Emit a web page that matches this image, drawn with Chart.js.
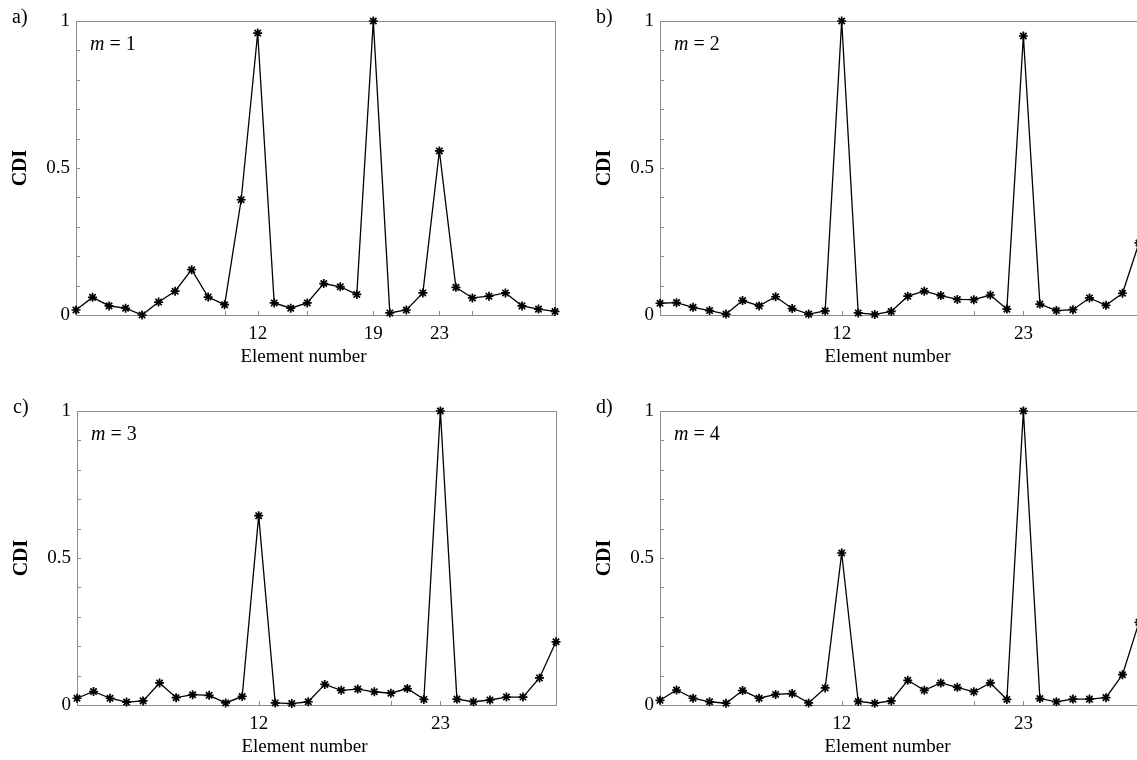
<!DOCTYPE html>
<html>
<head>
<meta charset="utf-8">
<script src="https://cdn.jsdelivr.net/npm/chart.js@4.4.1/dist/chart.umd.min.js"></script>
<style>
  body { margin: 0; background: #fff; overflow: hidden; width: 1137px; height: 760px; position: relative; }
  canvas { position: absolute; }
</style>
</head>
<body>
<canvas id="chart_a" width="570" height="375" style="left:0px;top:0px"></canvas>
<canvas id="chart_b" width="570" height="375" style="left:584px;top:0px"></canvas>
<canvas id="chart_c" width="570" height="375" style="left:1px;top:390px"></canvas>
<canvas id="chart_d" width="570" height="375" style="left:584px;top:390px"></canvas>
<script>
// element numbers along the beam
const elements = [1, 2, 3, 4, 5, 6, 7, 8, 9, 10, 11, 12, 13, 14, 15, 16, 17, 18, 19, 20, 21, 22, 23, 24, 25, 26, 27, 28, 29, 30]

// CDI per mode
const cdiM1 = [0.017, 0.060, 0.031, 0.023, 0.000, 0.044, 0.081, 0.154, 0.061, 0.035, 0.392, 0.959, 0.041, 0.023, 0.041,
               0.107, 0.096, 0.070, 1.000, 0.007, 0.017, 0.075, 0.558, 0.094, 0.058, 0.064, 0.075, 0.031, 0.020, 0.012]
const cdiM2 = [0.040, 0.042, 0.026, 0.015, 0.003, 0.049, 0.031, 0.062, 0.022, 0.003, 0.014, 1.000, 0.007, 0.002, 0.012,
               0.064, 0.081, 0.066, 0.053, 0.052, 0.068, 0.020, 0.949, 0.037, 0.015, 0.018, 0.058, 0.033, 0.074, 0.245]
const cdiM3 = [0.023, 0.046, 0.023, 0.010, 0.014, 0.075, 0.025, 0.035, 0.033, 0.007, 0.029, 0.644, 0.007, 0.005, 0.011,
               0.070, 0.050, 0.054, 0.045, 0.040, 0.056, 0.019, 1.000, 0.020, 0.011, 0.017, 0.027, 0.027, 0.092, 0.215]
const cdiM4 = [0.016, 0.051, 0.023, 0.011, 0.006, 0.049, 0.023, 0.036, 0.039, 0.007, 0.058, 0.517, 0.012, 0.006, 0.014,
               0.084, 0.050, 0.075, 0.060, 0.045, 0.075, 0.019, 1.000, 0.022, 0.011, 0.020, 0.020, 0.025, 0.103, 0.281]

// tick marks and labelled ticks
const xTicksA = [5, 10, 12, 15, 19, 20, 23, 25]
const xLabelsA = [12, 19, 23]
const xTicksRest = [5, 10, 12, 15, 20, 23, 25]
const xLabelsRest = [12, 23]
const yLabels = [0, 0.5, 1]

const panelTags = ['a)', 'b)', 'c)', 'd)']
const modeNumbers = [1, 2, 3, 4]
const xTitle = 'Element number'

const serif = '"Liberation Serif", "Times New Roman", serif'

// box + inward ticks under the data, panel texts on top
const framePlugin = {
  id: 'frame',
  beforeDatasetsDraw(chart) {
    const { ctx, chartArea: a, scales: { x, y } } = chart
    ctx.save()
    ctx.strokeStyle = '#8c8c8c'
    ctx.lineWidth = 1
    ctx.strokeRect(a.left + 0.5, a.top + 0.5, a.width, a.height)
    ctx.beginPath()
    y.ticks.forEach(t => {
      const py = Math.round(y.getPixelForValue(t.value)) + 0.5
      ctx.moveTo(a.left, py)
      ctx.lineTo(a.left + 4, py)
    })
    x.ticks.forEach(t => {
      const px = Math.round(x.getPixelForValue(t.value)) + 0.5
      ctx.moveTo(px, a.bottom)
      ctx.lineTo(px, a.bottom - 4)
    })
    ctx.stroke()
    ctx.restore()
  },
  afterDraw(chart, args, opts) {
    const { ctx, chartArea: a } = chart
    ctx.save()
    ctx.fillStyle = '#000'
    ctx.textBaseline = 'alphabetic'
    ctx.font = `20px ${serif}`
    ctx.fillText(opts.tag, a.left - 64, a.top + 2)

    // "m = n" with italic m
    ctx.font = `italic 20px ${serif}`
    const mx = a.left + 14
    const my = a.top + 29
    ctx.fillText('m', mx, my)
    const mw = ctx.measureText('m').width
    ctx.font = `20px ${serif}`
    ctx.fillText(` = ${opts.mode}`, mx + mw, my)

    // x title sits a little left of the plot centre in the original
    ctx.font = `19px ${serif}`
    ctx.textAlign = 'center'
    ctx.fillText(xTitle, (a.left + a.right) / 2 - 12, a.bottom + 47)
    ctx.restore()
  }
}

function makeChart(id, values, xTicks, xLabels, tag, mode) {
  const ctx = document.getElementById(id)
  return new Chart(ctx, {
    type: 'line',
    data: {
      datasets: [{
        data: elements.map((e, i) => ({ x: e, y: values[i] })),
        borderColor: '#000',
        borderWidth: 1.3,
        pointStyle: 'star',
        pointRadius: 4.5,
        pointBorderWidth: 1.7,
        pointBorderColor: '#000',
        pointBackgroundColor: '#000',
        tension: 0,
        clip: false
      }]
    },
    options: {
      responsive: false,
      animation: false,
      events: [],
      layout: { padding: { left: 0, right: 15, top: 21, bottom: 0 } },
      plugins: {
        legend: { display: false },
        tooltip: { enabled: false },
        frame: { tag: tag, mode: mode }
      },
      scales: {
        x: {
          type: 'linear',
          min: 1,
          max: 30,
          afterBuildTicks: s => { s.ticks = xTicks.map(v => ({ value: v })) },
          afterFit: s => { s.height = 60 },
          grid: { display: false, drawTicks: false },
          border: { display: false },
          ticks: {
            autoSkip: false,
            maxRotation: 0,
            padding: 8,
            color: '#000',
            font: { family: serif, size: 19 },
            callback: v => xLabels.includes(v) ? String(v) : ''
          }
        },
        y: {
          min: 0,
          max: 1,
          afterFit: s => { s.width = 76 },
          grid: { display: false, drawTicks: false },
          border: { display: false },
          ticks: {
            stepSize: 0.1,
            autoSkip: false,
            padding: 6,
            color: '#000',
            font: { family: serif, size: 19 },
            callback: v => {
              const l = yLabels.find(l => Math.abs(l - v) < 1e-6)
              return l === undefined ? '' : String(l)
            }
          },
          title: {
            display: true,
            text: 'CDI',
            color: '#000',
            font: { family: serif, size: 20, weight: 'bold' },
            padding: { top: 9, bottom: 0 }
          }
        }
      }
    },
    plugins: [framePlugin]
  })
}

makeChart('chart_a', cdiM1, xTicksA, xLabelsA, panelTags[0], modeNumbers[0])
makeChart('chart_b', cdiM2, xTicksRest, xLabelsRest, panelTags[1], modeNumbers[1])
makeChart('chart_c', cdiM3, xTicksRest, xLabelsRest, panelTags[2], modeNumbers[2])
makeChart('chart_d', cdiM4, xTicksRest, xLabelsRest, panelTags[3], modeNumbers[3])
</script>
</body>
</html>
